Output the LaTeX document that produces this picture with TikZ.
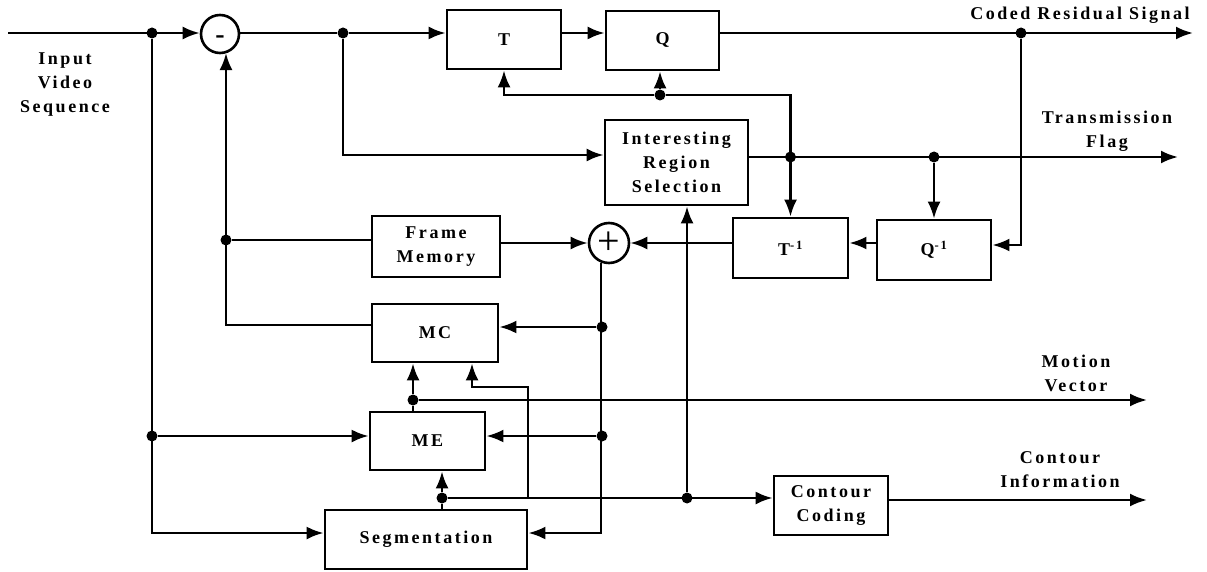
\documentclass[tikz,border=0pt]{standalone}
\usepackage{fontspec}
\setmainfont{Liberation Serif}[LetterSpace=14]
\usetikzlibrary{arrows.meta,calc}

\begin{document}
\begin{tikzpicture}[x=1pt,y=-1pt,font=\fontsize{18}{24}\selectfont\bfseries,
  box/.style={draw,line width=2.8pt,align=center,inner sep=0pt},
  sumc/.style={circle,draw,line width=2.6pt,minimum size=38pt,inner sep=0pt},
  junc/.style={circle,fill,inner sep=0pt,minimum size=11pt},
  lbl/.style={align=center},
  wire/.style={line width=2.5pt},
  arr/.style={wire,-{Latex[length=17pt,width=13pt]}}]
  \useasboundingbox (0,0) rectangle (1207,572);
  \node[box,minimum width=114pt,minimum height=59pt] (T) at (504,39.5) {T};
  \node[box,minimum width=113pt,minimum height=59pt] (Q) at (662.5,40.5) {Q};
  \node[box,minimum width=143pt,minimum height=85pt] (IRS) at (676.5,162.5) {Interesting\\Region\\Selection};
  \node[box,minimum width=128pt,minimum height=61pt] (FM) at (436,246.5) {Frame\\Memory};
  \node[box,minimum width=115pt,minimum height=60pt] (Ti) at (790.5,248) {T\textsuperscript{-1}};
  \node[box,minimum width=114pt,minimum height=60pt] (Qi) at (934,250) {Q\textsuperscript{-1}};
  \node[box,minimum width=126pt,minimum height=58pt] (MC) at (435,333) {MC};
  \node[box,minimum width=115pt,minimum height=58pt] (ME) at (427.5,441) {ME};
  \node[box,minimum width=202pt,minimum height=59pt] (Seg) at (426,539.5) {Segmentation};
  \node[box,minimum width=114pt,minimum height=59pt] (CC) at (831,505.5) {Contour\\Coding};
  \node[sumc] (minus) at (220,34) {};
  \node[inner sep=0pt] (msign) at ([yshift=-6pt]minus.center) {\fontsize{28}{28}\selectfont -};
  \node[sumc,minimum size=40pt] (plus) at (609,243) {\fontsize{40}{40}\selectfont\mdseries +};
  \node[lbl] (lin) at (65,85) {Input\\Video\\Sequence};
  \node[lbl] (lcr) at (1080,15) {Coded Residual Signal};
  \node[lbl] (ltf) at (1107,131) {Transmission\\Flag};
  \node[lbl] (lmv) at (1076,373) {Motion\\Vector};
  \node[lbl] (lci) at (1060,470) {Contour\\Information};
  \coordinate (vin) at (8,33);
  \coordinate (crs) at (1193,33);
  \coordinate (tfo) at (1178,157);
  \coordinate (mvo) at (1147,400);
  \coordinate (cio) at (1147,500);
  \coordinate (mck) at (528,498);
  \coordinate (mcb) at (472,387);
  \node[junc] (jin) at (152,33) {};
  \node[junc] (jd) at (343,33) {};
  \node[junc] (jcr) at (1021,33) {};
  \node[junc] (jtq) at (660,95) {};
  \node[junc] (jtf1) at (790.5,157) {};
  \node[junc] (jtf2) at (934,157) {};
  \node[junc] (jfm) at (226,240) {};
  \node[junc] (jmc) at (602,327) {};
  \node[junc] (jme) at (602,436) {};
  \node[junc] (jin2) at (152,436) {};
  \node[junc] (jmv) at (413,400) {};
  \node[junc] (jseg) at (442,498) {};
  \node[junc] (jcc) at (687,498) {};
  \draw[arr] (vin) -- (minus.west |- vin);
  \draw[wire] (minus.east |- jd) -- (jd);
  \draw[arr] (jd) -- (T.west |- jd);
  \draw[arr] (T.east |- jd) -- (Q.west |- jd);
  \draw[arr] (Q.east |- jd) -- (crs);
  \draw[arr] (jcr) |- ([yshift=5pt]Qi.east);
  \draw[arr] (jd) |- ([yshift=7.5pt]IRS.west);
  \draw[arr] ([yshift=5.5pt]IRS.east) -- (tfo);
  \draw[arr] (jtf2) -- (Qi.north);
  \draw[arr] (jtq) -- (jtq |- Q.south);
  \draw[arr] (jtq) -| (T.south);
  \draw[arr] (jtq) -| (Ti.north);
  \draw[arr] (Qi.west |- plus) -- (Ti.east |- plus);
  \draw[arr] (Ti.west |- plus) -- (plus);
  \draw[arr] (FM.east |- plus) -- (plus);
  \draw[wire] (FM.west |- jfm) -- (jfm);
  \draw[arr] ([yshift=8pt]MC.west) -| (jfm |- minus.-70);
  \draw[arr] (plus.-112) |- ([yshift=6.5pt]Seg.east);
  \draw[arr] (jmc) -- (MC.east |- jmc);
  \draw[arr] (jme) -- (ME.east |- jme);
  \draw[arr] (jin) |- ([yshift=6.5pt]Seg.west);
  \draw[arr] (jin2) -- (ME.west |- jin2);
  \draw[wire] (jmv |- ME.north) -- (jmv);
  \draw[arr] (jmv) -- (jmv |- MC.south);
  \draw[arr] (jmv) -- (mvo);
  \draw[arr] (mck) |- (mcb) -- (mcb |- MC.south);
  \draw[wire] (jseg |- Seg.north) -- (jseg);
  \draw[arr] (jseg) -- (jseg |- ME.south);
  \draw[arr] (jseg) -- (CC.west |- jseg);
  \draw[arr] (jcc) -- (jcc |- IRS.south);
  \draw[arr] ([yshift=5.5pt]CC.east) -- (cio);
\end{tikzpicture}
\end{document}
